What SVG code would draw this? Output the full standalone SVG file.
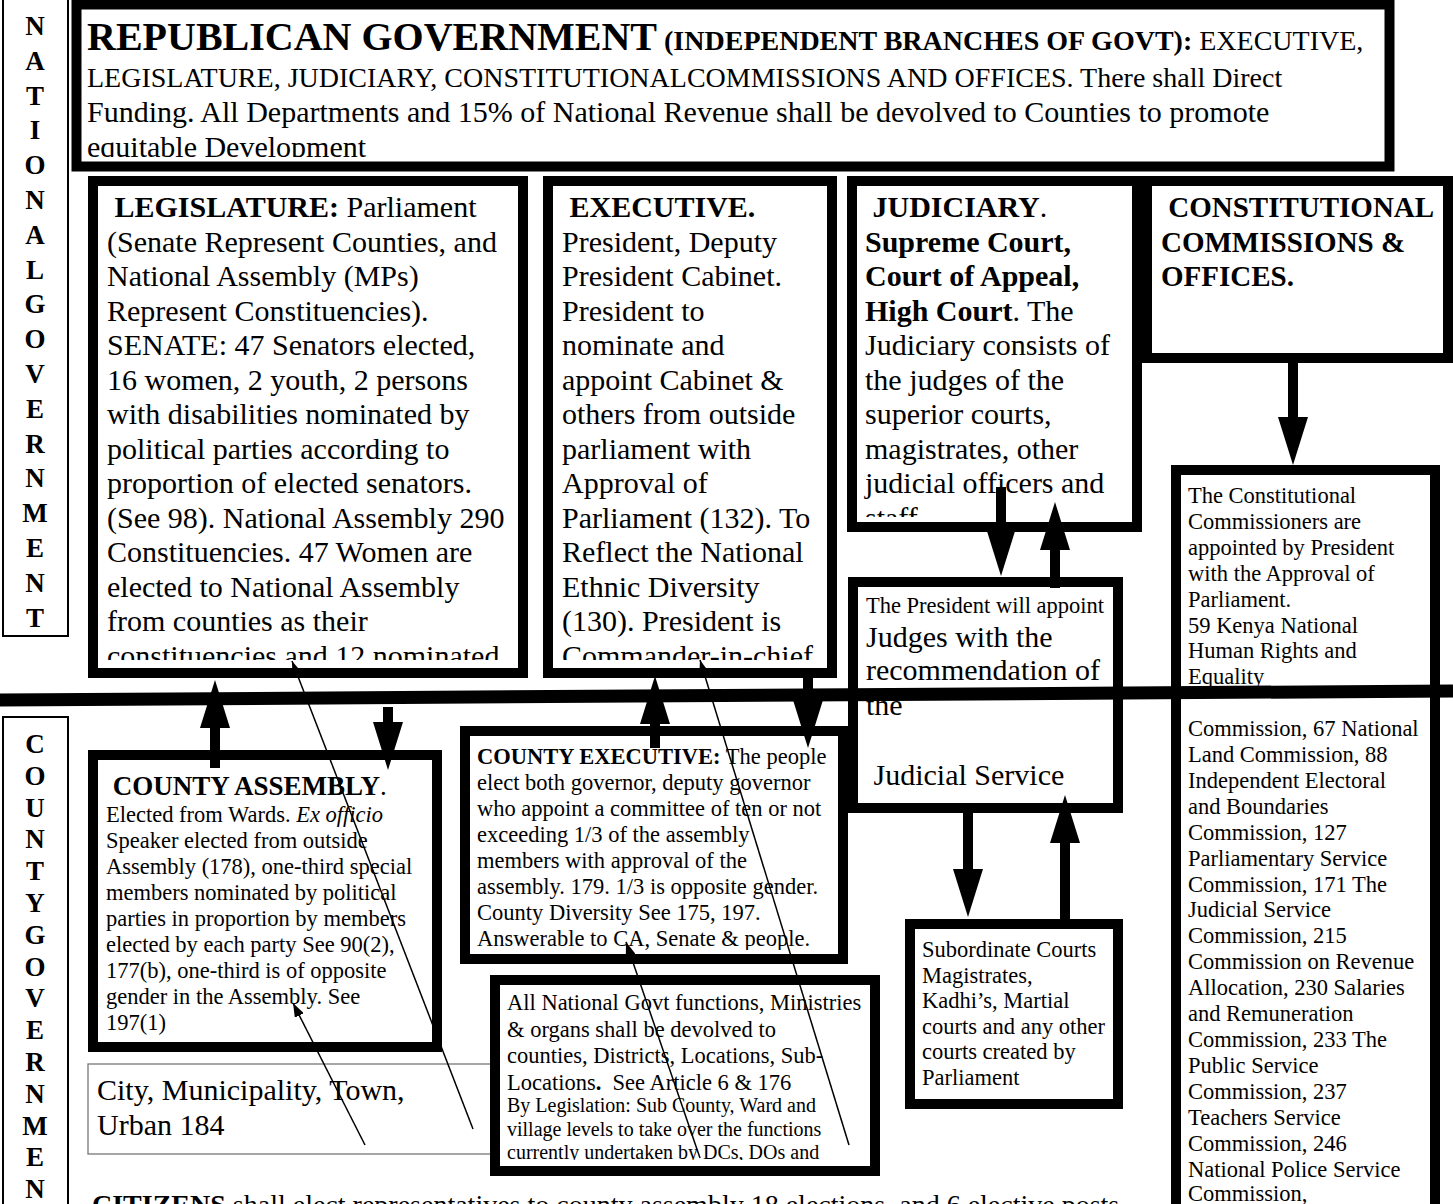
<svg xmlns="http://www.w3.org/2000/svg" width="1453" height="1204" viewBox="0 0 1453 1204" xml:space="preserve">
<defs>
<style>
text{font-family:"Liberation Serif","Times New Roman",serif;fill:#000;white-space:pre}
.bx{fill:#fff;stroke:#000;stroke-width:10}
.tn{fill:#fff;stroke:#000;stroke-width:2}
.vl{font-weight:bold;font-size:27px;text-anchor:middle}
.f30{font-size:30px}
.f29{font-size:29px}
.f22{font-size:22.5px}
.f20{font-size:20px}
.b{font-weight:bold}
.i{font-style:italic}
.sh{stroke:#000;stroke-width:10;fill:none;marker-end:url(#ah)}
.th{stroke:#000;stroke-width:1.5;fill:none;marker-end:url(#sa)}
</style>
<marker id="ah" markerUnits="userSpaceOnUse" markerWidth="48" markerHeight="30" viewBox="0 -15 48 30" refX="0" refY="0" orient="auto"><path d="M0,-15 L48,0 L0,15 z" fill="#000"/></marker>
<marker id="sa" markerUnits="userSpaceOnUse" markerWidth="14" markerHeight="10" viewBox="0 -5 14 10" refX="14" refY="0" orient="auto"><path d="M0,-5 L14,0 L0,5 z" fill="#000"/></marker>
<clipPath id="cTitle"><rect x="82" y="9" width="1303" height="148"/></clipPath>
<clipPath id="cLeg"><rect x="98" y="186" width="420" height="474"/></clipPath>
<clipPath id="cExe"><rect x="553" y="186" width="274" height="474"/></clipPath>
<clipPath id="cJud"><rect x="857" y="186" width="275" height="331"/></clipPath>
<clipPath id="cCE"><rect x="470" y="736" width="368" height="214"/></clipPath>
<clipPath id="cDev"><rect x="500" y="985" width="370" height="175"/></clipPath>
</defs>

<g id="national-label">
<rect class="tn" x="3" y="-1" width="65" height="637"/>
<text class="vl"><tspan x="35" y="35">N</tspan><tspan x="35" y="69.8">A</tspan><tspan x="35" y="104.6">T</tspan><tspan x="35" y="139.4">I</tspan><tspan x="35" y="174.2">O</tspan><tspan x="35" y="209">N</tspan><tspan x="35" y="243.8">A</tspan><tspan x="35" y="278.6">L</tspan><tspan x="35" y="313.4">G</tspan><tspan x="35" y="348.2">O</tspan><tspan x="35" y="383">V</tspan><tspan x="35" y="417.8">E</tspan><tspan x="35" y="452.6">R</tspan><tspan x="35" y="487.4">N</tspan><tspan x="35" y="522.2">M</tspan><tspan x="35" y="557">E</tspan><tspan x="35" y="591.8">N</tspan><tspan x="35" y="626.6">T</tspan></text>
</g>

<g id="county-label">
<rect class="tn" x="3" y="717" width="65" height="500"/>
<text class="vl"><tspan x="35" y="753">C</tspan><tspan x="35" y="784.8">O</tspan><tspan x="35" y="816.6">U</tspan><tspan x="35" y="848.4">N</tspan><tspan x="35" y="880.2">T</tspan><tspan x="35" y="912">Y</tspan><tspan x="35" y="943.8">G</tspan><tspan x="35" y="975.6">O</tspan><tspan x="35" y="1007.4">V</tspan><tspan x="35" y="1039.2">E</tspan><tspan x="35" y="1071">R</tspan><tspan x="35" y="1102.8">N</tspan><tspan x="35" y="1134.6">M</tspan><tspan x="35" y="1166.4">E</tspan><tspan x="35" y="1198.2">N</tspan></text>
</g>

<g id="title">
<rect class="bx" x="76.5" y="4.5" width="1313" height="162" stroke-width="9"/>
<g clip-path="url(#cTitle)">
<text x="87" y="50"><tspan class="b" font-size="40">REPUBLICAN GOVERNMENT</tspan><tspan class="b" font-size="28"> (INDEPENDENT BRANCHES OF GOVT):</tspan><tspan font-size="28"> EXECUTIVE,</tspan></text>
<text x="87" y="87" font-size="28">LEGISLATURE, JUDICIARY, CONSTITUTIONALCOMMISSIONS AND OFFICES. There shall Direct</text>
<text x="87" y="122" class="f30">Funding. All Departments and 15% of National Revenue shall be devolved to Counties to promote</text>
<text x="87" y="157" class="f30">equitable Development</text>
</g>
</g>

<g id="legislature">
<rect class="bx" x="93" y="181" width="430" height="492"/>
<g clip-path="url(#cLeg)" class="f30">
<text x="107" y="217"> <tspan class="b">LEGISLATURE:</tspan> Parliament</text>
<text x="107" y="251.5">(Senate Represent Counties, and</text>
<text x="107" y="286">National Assembly (MPs)</text>
<text x="107" y="320.5">Represent Constituencies).</text>
<text x="107" y="355">SENATE: 47 Senators elected,</text>
<text x="107" y="389.5">16 women, 2 youth, 2 persons</text>
<text x="107" y="424">with disabilities nominated by</text>
<text x="107" y="458.5">political parties according to</text>
<text x="107" y="493">proportion of elected senators.</text>
<text x="107" y="527.5">(See 98). National Assembly 290</text>
<text x="107" y="562">Constituencies. 47 Women are</text>
<text x="107" y="596.5">elected to National Assembly</text>
<text x="107" y="631">from counties as their</text>
<text x="107" y="665.5">constituencies and 12 nominated</text>
</g>
</g>

<g id="executive">
<rect class="bx" x="548" y="181" width="284" height="492"/>
<g clip-path="url(#cExe)" class="f30">
<text x="562" y="217"> <tspan class="b">EXECUTIVE.</tspan></text>
<text x="562" y="251.5">President, Deputy</text>
<text x="562" y="286">President Cabinet.</text>
<text x="562" y="320.5">President to</text>
<text x="562" y="355">nominate and</text>
<text x="562" y="389.5">appoint Cabinet &amp;</text>
<text x="562" y="424">others from outside</text>
<text x="562" y="458.5">parliament with</text>
<text x="562" y="493">Approval of</text>
<text x="562" y="527.5">Parliament (132). To</text>
<text x="562" y="562">Reflect the National</text>
<text x="562" y="596.5">Ethnic Diversity</text>
<text x="562" y="631">(130). President is</text>
<text x="562" y="665.5">Commander-in-chief</text>
</g>
</g>

<g id="judiciary">
<rect class="bx" x="852" y="181" width="285" height="346"/>
<g clip-path="url(#cJud)" class="f30">
<text x="865" y="217"> <tspan class="b">JUDICIARY</tspan>.</text>
<text x="865" y="251.5" class="b">Supreme Court,</text>
<text x="865" y="286" class="b">Court of Appeal,</text>
<text x="865" y="320.5"><tspan class="b">High Court</tspan>. The</text>
<text x="865" y="355">Judiciary consists of</text>
<text x="865" y="389.5">the judges of the</text>
<text x="865" y="424">superior courts,</text>
<text x="865" y="458.5">magistrates, other</text>
<text x="865" y="493">judicial officers and</text>
<text x="865" y="527.5">staff</text>
</g>
</g>

<g id="commissions">
<rect class="bx" x="1147" y="181" width="301" height="177"/>
<text x="1161" y="217" class="f29 b"> CONSTITUTIONAL</text>
<text x="1161" y="251.5" class="f29 b">COMMISSIONS &amp;</text>
<text x="1161" y="286" class="f29 b">OFFICES.</text>
</g>

<g id="commission-list">
<rect class="bx" x="1176" y="470" width="259" height="760"/>
<g class="f22">
<text x="1188" y="503">The Constitutional</text>
<text x="1188" y="529">Commissioners are</text>
<text x="1188" y="555">appointed by President</text>
<text x="1188" y="581">with the Approval of</text>
<text x="1188" y="607">Parliament.</text>
<text x="1188" y="633">59 Kenya National</text>
<text x="1188" y="658">Human Rights and</text>
<text x="1188" y="684">Equality</text>
<text x="1188" y="736">Commission, 67 National</text>
<text x="1188" y="762">Land Commission, 88</text>
<text x="1188" y="788">Independent Electoral</text>
<text x="1188" y="814">and Boundaries</text>
<text x="1188" y="840">Commission, 127</text>
<text x="1188" y="866">Parliamentary Service</text>
<text x="1188" y="892">Commission, 171 The</text>
<text x="1188" y="917">Judicial Service</text>
<text x="1188" y="943">Commission, 215</text>
<text x="1188" y="969">Commission on Revenue</text>
<text x="1188" y="995">Allocation, 230 Salaries</text>
<text x="1188" y="1021">and Remuneration</text>
<text x="1188" y="1047">Commission, 233 The</text>
<text x="1188" y="1073">Public Service</text>
<text x="1188" y="1099">Commission, 237</text>
<text x="1188" y="1125">Teachers Service</text>
<text x="1188" y="1151">Commission, 246</text>
<text x="1188" y="1177">National Police Service</text>
<text x="1188" y="1201">Commission,</text>
</g>
</g>

<g id="president-appoints">
<rect class="bx" x="853" y="582" width="265" height="226"/>
<text x="866" y="613" class="f22">The President will appoint</text>
<text x="866" y="647" class="f30">Judges with the</text>
<text x="866" y="680" class="f30">recommendation of</text>
<text x="866" y="715" class="f30">the</text>
<text x="866" y="785" class="f30"> Judicial Service</text>
</g>

<g id="subordinate-courts">
<rect class="bx" x="910" y="924" width="208" height="180"/>
<g class="f22">
<text x="922" y="957">Subordinate Courts</text>
<text x="922" y="983">Magistrates,</text>
<text x="922" y="1008">Kadhi’s, Martial</text>
<text x="922" y="1034">courts and any other</text>
<text x="922" y="1059">courts created by</text>
<text x="922" y="1085">Parliament</text>
</g>
</g>

<g id="county-assembly">
<rect class="bx" x="93" y="755" width="344" height="292"/>
<text x="106" y="795" font-size="27"> <tspan class="b">COUNTY ASSEMBLY</tspan>.</text>
<g class="f22">
<text x="106" y="822">Elected from Wards. <tspan class="i">Ex officio</tspan></text>
<text x="106" y="848">Speaker elected from outside</text>
<text x="106" y="874">Assembly (178), one-third special</text>
<text x="106" y="900">members nominated by political</text>
<text x="106" y="926">parties in proportion by members</text>
<text x="106" y="952">elected by each party See 90(2),</text>
<text x="106" y="978">177(b), one-third is of opposite</text>
<text x="106" y="1004">gender in the Assembly. See</text>
<text x="106" y="1030">197(1)</text>
</g>
</g>

<g id="city">
<rect x="88" y="1064" width="420" height="90" fill="#fff" stroke="#777" stroke-width="1.3"/>
<text x="97" y="1100" class="f30">City, Municipality, Town,</text>
<text x="97" y="1135" class="f30">Urban 184</text>
</g>

<g id="county-executive">
<rect class="bx" x="465" y="731" width="378" height="228"/>
<g clip-path="url(#cCE)" class="f22">
<text x="477" y="764"><tspan class="b">COUNTY EXECUTIVE:</tspan> The people</text>
<text x="477" y="790">elect both governor, deputy governor</text>
<text x="477" y="816">who appoint a committee of ten or not</text>
<text x="477" y="842">exceeding 1/3 of the assembly</text>
<text x="477" y="868">members with approval of the</text>
<text x="477" y="894">assembly. 179. 1/3 is opposite gender.</text>
<text x="477" y="920">County Diversity See 175, 197.</text>
<text x="477" y="946">Answerable to CA, Senate &amp; people.</text>
</g>
</g>

<g id="devolution">
<rect class="bx" x="495" y="980" width="380" height="191"/>
<g clip-path="url(#cDev)">
<text x="507" y="1010" class="f22">All National Govt functions, Ministries</text>
<text x="507" y="1037" class="f22">&amp; organs shall be devolved to</text>
<text x="507" y="1063" class="f22">counties, Districts, Locations, Sub-</text>
<text x="507" y="1090" class="f22">Locations<tspan class="b">.</tspan>  See Article 6 &amp; 176</text>
<text x="507" y="1112" class="f20">By Legislation: Sub County, Ward and</text>
<text x="507" y="1136" class="f20">village levels to take over the functions</text>
<text x="507" y="1159" class="f20">currently undertaken by DCs, DOs and</text>
</g>
</g>

<g id="citizens">
<text x="92" y="1214" font-size="28"><tspan class="b">CITIZENS</tspan> shall elect representatives to county assembly 18 elections, and 6 elective posts</text>
</g>

<g id="divider">
<line x1="0" y1="700" x2="1453" y2="691" stroke="#000" stroke-width="13"/>
</g>

<g id="connectors">
<line class="sh" x1="215" y1="768" x2="215" y2="728"/>
<line class="sh" x1="388" y1="707" x2="388" y2="722"/>
<line class="sh" x1="655" y1="748" x2="655" y2="724"/>
<line class="sh" x1="808" y1="669" x2="808" y2="700"/>
<line class="sh" x1="1001" y1="487" x2="1001" y2="528"/>
<line class="sh" x1="1055" y1="588" x2="1055" y2="550"/>
<line class="sh" x1="1293" y1="363" x2="1293" y2="417"/>
<line class="sh" x1="968" y1="813" x2="968" y2="869"/>
<line class="sh" x1="1065" y1="919" x2="1065" y2="843"/>
<line class="th" x1="473" y1="1129" x2="292" y2="661"/>
<line class="th" x1="365" y1="1145" x2="293" y2="1003"/>
<line class="th" x1="849" y1="1145" x2="700" y2="660"/>
<line class="th" x1="700" y1="1158" x2="626" y2="942"/>
</g>
</svg>
